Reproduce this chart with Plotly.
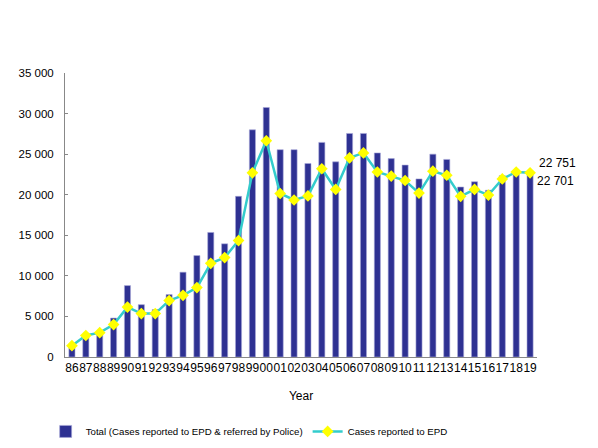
import plotly.graph_objects as go

# years shown as two-digit labels on the x axis
years = ['86', '87', '88', '89', '90', '91', '92', '93', '94', '95', '96', '97', '98', '99',
         '00', '01', '02', '03', '04', '05', '06', '07', '08', '09', '10', '11', '12', '13',
         '14', '15', '16', '17', '18', '19']

# total cases (reported to EPD & referred by police)
total_cases = [1450, 2750, 3050, 4800, 8800, 6450, 5850, 7700, 10450, 12500, 15350, 13950,
               19800, 28000, 30750, 25550, 25550, 23850, 26450, 24050, 27550, 27550, 25150,
               24450, 23650, 21950, 25000, 24350, 20950, 21600, 20550, 22350, 22900, 22751]

# cases reported to EPD
epd_cases = [1400, 2650, 3000, 4000, 6150, 5350, 5350, 6950, 7600, 8550, 11550, 12250,
             14350, 22700, 26650, 20150, 19350, 19850, 23200, 20650, 24550, 25150, 22800,
             22300, 21750, 20200, 22900, 22400, 19800, 20650, 19950, 21950, 22800, 22701]

last = len(years) - 1  # category index of the final year

fig = go.Figure()
fig.add_trace(go.Bar(x=years, y=total_cases,
                     name='Total (Cases reported to EPD & referred by Police)',
                     marker=dict(color='#2E3192', line=dict(color='#A8A8D8', width=0.6))))
fig.add_trace(go.Scatter(x=years, y=epd_cases, name='Cases reported to EPD', mode='lines+markers',
                         line=dict(color='#33CCCC', width=2.5),
                         marker=dict(symbol='diamond', color='#FFFF00', size=9)))

# end labels for the last year (numeric x = category index)
fig.add_annotation(x=last, y=total_cases[-1], text='22 751', showarrow=False,
                   xanchor='left', xshift=7, yshift=9, font=dict(size=12, color='black'))
fig.add_annotation(x=last, y=epd_cases[-1], text='22 701', showarrow=False,
                   xanchor='left', xshift=5, yshift=-8, font=dict(size=12, color='black'))

# page body adds an 8px offset, so the figure is drawn 8px smaller
fig.update_layout(width=590, height=440,
                  margin=dict(l=57, r=61, t=65, b=91, autoexpand=False),
                  plot_bgcolor='white', paper_bgcolor='white', bargap=0.56,
                  separators='. ',
                  font=dict(family='Liberation Sans, Arial, sans-serif', size=12, color='black'),
                  legend=dict(orientation='h', x=-0.041, xanchor='left', y=-0.262, yanchor='middle',
                              font=dict(size=9.7), itemwidth=30),
                  showlegend=True)
fig.update_xaxes(type='category', tickangle=0, dtick=1, range=[-0.5, last + 0.5],
                 showline=True, linecolor='#888888', linewidth=1, ticks='',
                 title_text='Year', title_standoff=17, title_font=dict(size=12),
                 tickfont=dict(size=12))
fig.update_yaxes(range=[0, 35000], dtick=5000, tickformat=',d', showline=True,
                 linecolor='#888888', linewidth=1, ticks='inside', ticklen=3,
                 tickcolor='#888888', showgrid=False, zeroline=False, ticklabelstandoff=8,
                 tickfont=dict(size=11.5))

fig.write_html("out.html")
